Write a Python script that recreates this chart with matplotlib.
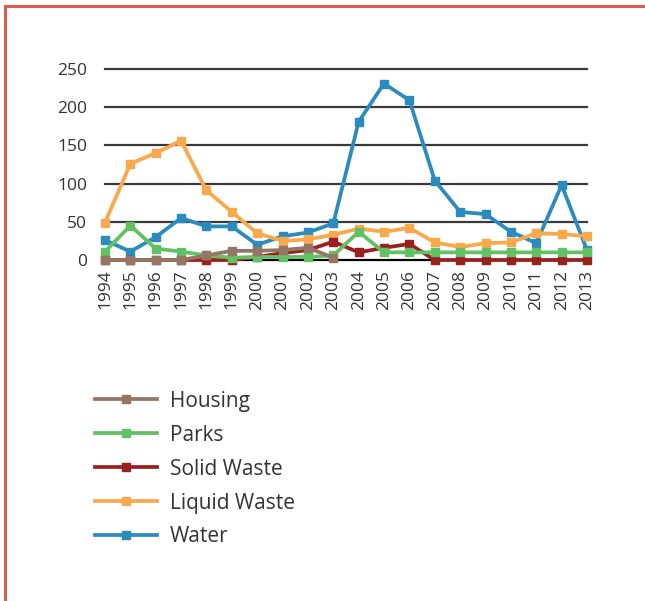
import matplotlib.pyplot as plt
from matplotlib.lines import Line2D
import numpy as np

plt.rcParams["font.family"] = ["Open Sans", "DejaVu Sans"]

years = list(range(1994, 2014))
nan = np.nan

housing = [0, 0, 0, 0, 6, 12, 12, 13, 16, 3] + [nan] * 10
parks = [11, 45, 15, 11, 6, 3, 4, 4, 4, 6, 37, 10, 10, 10, 10, 10, 10, 10, 10, 10]
solid_waste = [0, 0, 0, 0, 0, 0, 4, 9, 13, 24, 10, 16, 21, 0, 0, 0, 0, 0, 0, 0]
liquid_waste = [49, 126, 140, 156, 91, 63, 35, 25, 27, 33, 41, 37, 42, 23, 17, 22, 23, 35, 34, 31]
water = [26, 11, 30, 55, 44, 44, 20, 31, 36, 48, 181, 231, 209, 104, 63, 60, 37, 22, 98, 13]

series = [
    ("Housing", housing, "#957664"),
    ("Parks", parks, "#62c065"),
    ("Solid Waste", solid_waste, "#99201e"),
    ("Liquid Waste", liquid_waste, "#f9a84b"),
    ("Water", water, "#2b8bbd"),
]

fig = plt.figure(figsize=(6.45, 6.01), dpi=100)
ax = fig.add_axes([105 / 645, 1 - 260 / 601, (587 - 105) / 645, (260 - 69) / 601])

for v in [50, 100, 150, 200, 250]:
    ax.axhline(v, color="#3a3a3a", lw=1.6, zorder=0, clip_on=False)
ax.axhline(0, color="black", lw=1.6, zorder=0, clip_on=False)

# first series sits on top, as in the original
for i, (name, vals, col) in enumerate(series):
    ax.plot(years, vals, color=col, lw=2.7, marker="s", ms=6, label=name,
            clip_on=False, zorder=10 - i)

ax.set_xlim(1994, 2013)
ax.set_ylim(0, 250)
ax.set_yticks([0, 50, 100, 150, 200, 250])
ax.set_xticks(years)
ax.set_xticklabels([str(y) for y in years], rotation=90)
ax.tick_params(axis="both", length=0, labelsize=12.5, colors="#333333")
ax.tick_params(axis="y", pad=13)
ax.tick_params(axis="x", pad=7)
for s in ax.spines.values():
    s.set_visible(False)

fig.legend(loc="upper left", bbox_to_anchor=(76 / 645, 1 - 372 / 601), frameon=False,
           fontsize=15, handlelength=3.0, labelspacing=0.62, handletextpad=0.6,
           labelcolor="#333333")

# red frame (top and left edges)
fig.add_artist(Line2D([5 / 645, 1], [1 - 6 / 601, 1 - 6 / 601], color="#d9604f", lw=2.2))
fig.add_artist(Line2D([5 / 645, 5 / 645], [0, 1 - 6 / 601], color="#d9604f", lw=2.2))

fig.savefig("out.png", dpi=100)
